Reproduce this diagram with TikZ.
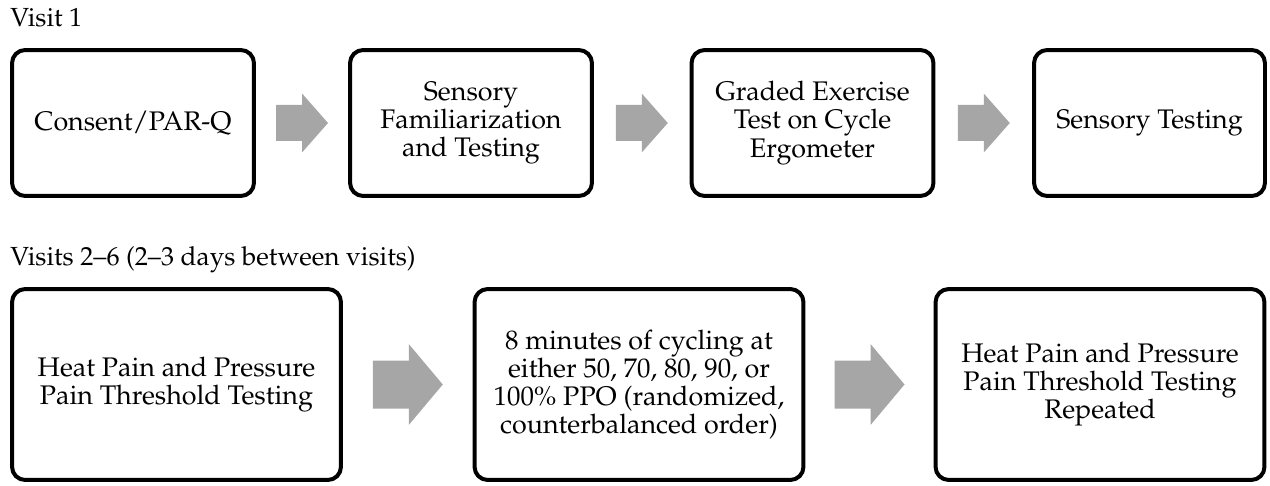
\documentclass[tikz,border=0pt]{standalone}
\usepackage[T1]{fontenc}
\usepackage{mathpazo}
\usetikzlibrary{calc}
\tikzset{
	stagebox/.style={draw, line width=2.27pt, rounded corners=7.5pt, align=center, inner sep=0pt,
		font=\fontsize{15.3}{16}\selectfont},
	rowlabel/.style={anchor=base west, inner sep=0pt, font=\fontsize{14.9}{16}\selectfont},
	blockfill/.style={fill=black!35, draw=none}
}
% #1 centre, #2 length, #3 head length, #4 half shaft, #5 half head
\newcommand\blockarrow[5]{%
	\fill[blockfill] (#1) ++(-#2/2,-#4) -- ++(#2-#3,0) -- ++(0,-#5+#4) -- ++(#3,#5)
	-- ++(-#3,#5) -- ++(0,-#5+#4) -- ++(-#2+#3,0) -- cycle;}
\begin{document}
\begin{tikzpicture}[x=0.02cm, y=-0.02cm, line join=round]
	\useasboundingbox (0,0) rectangle (1270,486);
	\node[rowlabel] (visA) at (10,27) {Visit 1};
	\node[rowlabel] (visB) at (10,265) {Visits 2--6 (2--3 days between visits)};
	% first visit
	\node[stagebox, minimum width=4.84cm, minimum height=2.92cm] (b1) at (133,123) {Consent/PAR-Q};
	\node[stagebox, minimum width=4.84cm, minimum height=2.92cm] (b2) at (471,123) {Sensory\\Familiarization\\and Testing};
	\node[stagebox, minimum width=4.84cm, minimum height=2.92cm] (b3) at (812.5,123) {Graded Exercise\\Test on Cycle\\Ergometer};
	\node[stagebox, minimum width=4.62cm, minimum height=2.92cm] (b4) at (1149.5,123) {Sensory Testing};
	% visits 2-6
	\node[stagebox, minimum width=6.58cm, minimum height=3.82cm] (c1) at (176.5,384.5) {Heat Pain and Pressure\\Pain Threshold Testing};
	\node[stagebox, minimum width=6.58cm, minimum height=3.82cm] (c2) at (639,384.5) {8 minutes of cycling at\\either 50, 70, 80, 90, or\\100\% PPO (randomized,\\counterbalanced order)};
	\node[stagebox, minimum width=6.58cm, minimum height=3.82cm] (c3) at (1100,384.5) {Heat Pain and Pressure\\Pain Threshold Testing\\Repeated};
	\foreach \p/\q in {b1/b2,b2/b3,b3/b4}
		\blockarrow{$(\p.east)!.5!(\q.west)$}{52}{26}{18}{29.5};
	\foreach \p/\q in {c1/c2,c2/c3}
		\blockarrow{$(\p.east)!.5!(\q.west)$}{70}{34}{24}{40.5};
\end{tikzpicture}
\end{document}
